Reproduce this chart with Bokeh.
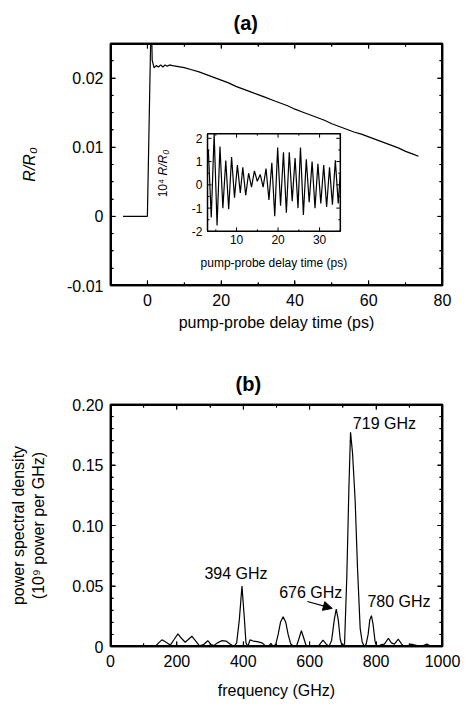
import math
from bokeh.plotting import figure
from bokeh.layouts import column
from bokeh.models import (Range1d, LinearAxis, SingleIntervalTicker, CustomJSTickFormatter,
                          Arrow, NormalHead, ColumnDataSource, BoxAnnotation)
from bokeh.embed import file_html
from bokeh.resources import INLINE
from bokeh.core.properties import value

FONT = "Liberation Sans"

# ---------------- data: panel (a) main transient ----------------
delay_ps = [-6.6, -3.0, 0.0, 1.05, 1.3, 1.8, 2.4, 3.0, 3.6, 4.2, 4.8, 5.4, 6.0, 6.8, 8.0,
            10, 12, 14, 16, 18, 20, 22, 24, 26, 28, 30, 32, 34, 36, 38, 40, 42, 44, 46,
            48, 50, 52, 54, 56, 58, 60, 62, 64, 66, 68, 70, 72, 73.5]
refl = [0, 0, 0, 0.030, 0.0226, 0.0215, 0.0218, 0.0216, 0.0219, 0.0216, 0.0219, 0.0217,
        0.0219, 0.0218, 0.0217,
        0.0215, 0.0212, 0.0209, 0.0205, 0.0201, 0.0197, 0.0193, 0.0188, 0.0184, 0.0180,
        0.0176, 0.0172, 0.0168, 0.0164, 0.0160, 0.0155, 0.0151, 0.0147, 0.0143, 0.0139,
        0.0134, 0.0130, 0.0126, 0.0122, 0.0119, 0.0115, 0.0111, 0.0107, 0.0103, 0.0099,
        0.0094, 0.0090, 0.0087]
a_xmajor = [0, 20, 40, 60, 80]
a_xminor = [-10, 10, 30, 50, 70]
a_ymajor = [-0.01, 0, 0.01, 0.02]
a_yminor = [-0.0075, -0.005, -0.0025, 0.0025, 0.005, 0.0075, 0.0125, 0.015, 0.0175, 0.0225]

# ---------------- data: inset oscillation (10^4 R/R0) ----------------
inset_t = [3.2, 3.9, 4.6, 5.3, 6.0, 6.7, 7.4, 8.1, 8.8, 9.5, 10.2, 10.9, 11.5, 12.2, 12.9,
           13.6, 14.3, 15.0, 15.7, 16.4, 17.1, 17.8, 18.5, 19.2, 19.9, 20.6, 21.3, 22.0,
           22.7, 23.4, 24.1, 24.8, 25.4, 26.1, 26.8, 27.5, 28.2, 28.9, 29.6, 30.3, 31.0,
           31.7, 32.4, 33.1, 33.8, 34.5, 35.0]
inset_dr = [1.5, -1.4, 2.2, -1.75, 1.65, -1.0, 1.05, -1.05, 1.2, -0.55, 0.85, -0.35, 0.75,
            -0.45, 0.5, -0.1, 0.6, 0.15, 0.45, -0.1, 0.7, -0.65, 0.95, -1.35, 1.6, -0.9,
            1.4, -1.2, 1.4, -0.7, 1.15, -1.0, 1.6, -1.3, 1.1, -0.75, 1.0, -1.0, 0.9, -0.8,
            0.85, -0.95, 0.75, -0.85, 1.05, -0.8, 0.5]
inset_xticks = [10, 20, 30]
inset_xminor = [5, 15, 25, 35]
inset_yticks = [-2, -1, 0, 1, 2]
inset_yminor = [-1.5, -0.5, 0.5, 1.5]

# ---------------- data: panel (b) power spectrum ----------------
freq_ghz = [0, 135, 145, 155, 165, 180, 192, 203, 213, 225, 235, 245, 255, 268, 280, 293,
            303, 312, 322, 335, 348, 360, 372, 380, 388, 396, 403, 408, 414, 420, 430, 445,
            458, 468, 476, 483, 490, 498, 505, 512, 520, 528, 535, 543, 552, 560, 567, 575,
            582, 590, 615, 628, 640, 650, 658, 666, 674, 680, 686, 692, 698, 705, 712, 718,
            723, 729, 737, 744, 752, 758, 764, 770, 776, 781, 786, 791, 797, 803, 815, 825,
            837, 846, 855, 867, 877, 885, 895, 905, 920, 935, 953, 965, 985, 1000]
psd = [0, 0, 0.003, 0.0055, 0.004, 0.0012, 0.006, 0.0105, 0.007, 0.0035, 0.006, 0.0085,
       0.005, 0.0005, 0.0015, 0.0048, 0.0015, 0.0008, 0.003, 0.0048, 0.0045, 0.002, 0.0,
       0.003, 0.022, 0.050, 0.024, 0.003, 0.0, 0.0055, 0.0045, 0.0038, 0.0028, 0.0, 0.0,
       0.0025, 0.0, 0.002, 0.010, 0.020, 0.0245, 0.020, 0.010, 0.002, 0.0, 0.0, 0.006,
       0.013, 0.007, 0.0, 0.0, 0.001, 0.0052, 0.002, 0.0, 0.005, 0.022, 0.031, 0.022, 0.006,
       0.0, 0.002, 0.060, 0.130, 0.177, 0.160, 0.120, 0.065, 0.015, 0.004, 0.0, 0.002, 0.010,
       0.022, 0.0255, 0.018, 0.004, 0.0, 0.0015, 0.002, 0.0068, 0.003, 0.002, 0.006, 0.002,
       0.0, 0.0, 0.002, 0.001, 0.0, 0.002, 0.0, 0.0, 0.001]
b_xmajor = [0, 200, 400, 600, 800, 1000]
b_xminor = [100, 300, 500, 700, 900]
b_ymajor = [0, 0.05, 0.10, 0.15, 0.20]
b_yminor = [0.01, 0.02, 0.03, 0.04, 0.06, 0.07, 0.08, 0.09, 0.11, 0.12, 0.13, 0.14,
            0.16, 0.17, 0.18, 0.19]
peak_labels = ["394 GHz", "676 GHz", "719 GHz", "780 GHz"]
peak_label_x = [378, 603, 825, 869]
peak_label_y = [0.060, 0.0447, 0.184, 0.0372]
arrow_from = (593, 0.0372)
arrow_to = (668, 0.0315)


def num_fmt():
    return CustomJSTickFormatter(code="return Math.abs(tick) < 1e-9 ? '0' : tick.toFixed(2);")


def blank_fmt():
    return CustomJSTickFormatter(code="return '';")


def style_axes(p, xint, xminor, yint, yminor, yfmt):
    bottom = p.below[0]
    left = p.left[0]
    top = LinearAxis(formatter=blank_fmt(), major_label_standoff=0)
    right = LinearAxis(formatter=blank_fmt(), major_label_standoff=0)
    p.add_layout(top, "above")
    p.add_layout(right, "right")
    for ax in (bottom, top):
        ax.ticker = SingleIntervalTicker(interval=xint, num_minor_ticks=xminor)
    for ax in (left, right):
        ax.ticker = SingleIntervalTicker(interval=yint, num_minor_ticks=yminor)
    left.formatter = yfmt
    for ax in (bottom, left, top, right):
        ax.axis_line_color = "black"
        ax.axis_line_width = 1.5
        ax.major_tick_in = 5
        ax.major_tick_out = 0
        ax.minor_tick_in = 3
        ax.minor_tick_out = 0
        ax.major_tick_line_color = "black"
        ax.minor_tick_line_color = "black"
        ax.major_label_text_font = FONT
        ax.major_label_text_font_size = "16px"
        ax.major_label_text_color = "black"
        ax.axis_label_text_font = FONT
        ax.axis_label_text_font_size = "16px"
        ax.axis_label_text_font_style = "normal"
        ax.axis_label_text_color = "black"
    bottom.major_label_standoff = 8
    left.major_label_standoff = 7
    p.xgrid.visible = False
    p.ygrid.visible = False
    p.outline_line_color = "black"
    p.outline_line_width = 1.5
    p.background_fill_color = None
    p.border_fill_color = None
    return bottom, left


def draw_frame(p, xr, yr, frame_w_px, frame_h_px, xmaj, xmin, ymaj, ymin):
    """Frame box and inward ticks, drawn with line-type glyphs and a box annotation."""
    p.add_layout(BoxAnnotation(left=xr.start, right=xr.end, bottom=yr.start, top=yr.end,
                               fill_alpha=0, line_color="black", line_width=2,
                               line_alpha=1, level="overlay"))
    p.line([xr.start, xr.end, xr.end, xr.start, xr.start],
           [yr.start, yr.start, yr.end, yr.end, yr.start],
           line_color="black", line_width=3)
    dx = (xr.end - xr.start) / frame_w_px
    dy = (yr.end - yr.start) / frame_h_px
    xs, ys = [], []
    for vals, ln in ((xmaj, 5), (xmin, 3)):
        for v in vals:
            xs.append([v, v]); ys.append([yr.start, yr.start + ln * dy])
            xs.append([v, v]); ys.append([yr.end, yr.end - ln * dy])
    for vals, ln in ((ymaj, 5), (ymin, 3)):
        for v in vals:
            xs.append([xr.start, xr.start + ln * dx]); ys.append([v, v])
            xs.append([xr.end, xr.end - ln * dx]); ys.append([v, v])
    p.multi_line(xs, ys, line_color="black", line_width=1)


def style_title(p, text, offset):
    p.title.text = text
    p.title.align = "left"
    p.title.offset = offset
    p.title.text_font = FONT
    p.title.text_font_size = "20px"
    p.title.text_font_style = "bold"
    p.title.text_color = "black"
    p.title.standoff = 19


# ---------------- panel (a) ----------------
a_xr = Range1d(-10, 80)
a_yr = Range1d(-0.01, 0.025)
pa = figure(width=468, height=350, x_range=a_xr, y_range=a_yr,
            output_backend="svg", toolbar_location=None,
            min_border_left=108, min_border_right=26, min_border_top=42, min_border_bottom=65)
style_title(pa, "(a)", 123)
pa.line(delay_ps, refl, line_color="black", line_width=1.2)
ba, la = style_axes(pa, 20, 2, 0.01, 4, num_fmt())
ba.axis_label = "pump-probe delay time (ps)"
ba.axis_label_standoff = 5
la.axis_label = "R/R\u2080"
la.axis_label_text_font_style = "italic"
la.axis_label_standoff = 26
draw_frame(pa, a_xr, a_yr, 334, 243, a_xmajor, a_xminor, a_ymajor, a_yminor)

# inset drawn in sub-coordinates of panel (a)
in_x = Range1d(3, 35)
in_y = Range1d(-2, 2.2)
sub = pa.subplot(x_source=in_x, y_source=in_y,
                 x_target=Range1d(16.3, 52.3), y_target=Range1d(-0.00217, 0.01196))
sub.quad(left=[in_x.start], right=[in_x.end], bottom=[in_y.start], top=[in_y.end],
         fill_color="white", line_color="black", line_width=1.5)
sub.line(inset_t, inset_dr, line_color="black", line_width=1.2)
idx = (in_x.end - in_x.start) / 133.0
idy = (in_y.end - in_y.start) / 98.0
txs, tys = [], []
for vals, ln in ((inset_xticks, 4), (inset_xminor, 2)):
    for v in vals:
        txs.append([v, v]); tys.append([in_y.start, in_y.start + ln * idy])
        txs.append([v, v]); tys.append([in_y.end, in_y.end - ln * idy])
for vals, ln in ((inset_yticks, 4), (inset_yminor, 2)):
    for v in vals:
        txs.append([in_x.start, in_x.start + ln * idx]); tys.append([v, v])
        txs.append([in_x.end, in_x.end - ln * idx]); tys.append([v, v])
sub.multi_line(txs, tys, line_color="black", line_width=1)
n = len(inset_xticks)
k = len(inset_yticks)
sub.text(x=inset_xticks, y=[in_y.start] * n, text=[str(t) for t in inset_xticks],
         y_offset=4, text_align="center", text_baseline="top",
         text_font=value(FONT), text_font_size="12px", text_color="black")
sub.text(x=[in_x.start] * k, y=inset_yticks, text=[str(t) for t in inset_yticks],
         x_offset=-5, text_align="right", text_baseline="middle",
         text_font=value(FONT), text_font_size="12px", text_color="black")
sub.text(x=[(in_x.start + in_x.end) / 2], y=[in_y.start], text=["pump-probe delay time (ps)"],
         y_offset=32, text_align="center", text_baseline="middle",
         text_font=value(FONT), text_font_size="12px", text_color="black")
sub.text(x=[in_x.start], y=[0.4], text=["10\u2074 "], x_offset=-45, angle=math.pi / 2,
         text_align="right", text_baseline="middle",
         text_font=value(FONT), text_font_size="12px", text_color="black")
sub.text(x=[in_x.start], y=[0.4], text=["R/R\u2080"], x_offset=-45, angle=math.pi / 2,
         text_align="left", text_baseline="middle", text_font_style="italic",
         text_font=value(FONT), text_font_size="12px", text_color="black")

# ---------------- panel (b) ----------------
b_xr = Range1d(0, 1000)
b_yr = Range1d(0, 0.20)
pb = figure(width=468, height=360, x_range=b_xr, y_range=b_yr,
            output_backend="svg", toolbar_location=None,
            min_border_left=110, min_border_right=26, min_border_top=54, min_border_bottom=64)
style_title(pb, "(b)", 125)
pb.line(freq_ghz, psd, line_color="black", line_width=1.2)
bb, lb = style_axes(pb, 200, 2, 0.05, 5, num_fmt())
bb.axis_label = "frequency (GHz)"
bb.axis_label_standoff = 12
lb.axis_label = "power spectral density\n(10\u2079 power per GHz)"
lb.axis_label_standoff = 22
draw_frame(pb, b_xr, b_yr, 332, 242, b_xmajor, b_xminor, b_ymajor, b_yminor)

lsrc = ColumnDataSource(dict(x=peak_label_x, y=peak_label_y, t=peak_labels))
pb.text(x="x", y="y", text="t", source=lsrc, text_align="center", text_baseline="middle",
        text_font=value(FONT), text_font_size="16px", text_color="black")
pb.add_layout(Arrow(end=NormalHead(size=9, fill_color="black", line_color="black"),
                    x_start=arrow_from[0], y_start=arrow_from[1],
                    x_end=arrow_to[0], y_end=arrow_to[1],
                    line_color="black", line_width=1.2))

layout = column(pa, pb, spacing=0)
open("out.html", "w").write(file_html(layout, INLINE))
